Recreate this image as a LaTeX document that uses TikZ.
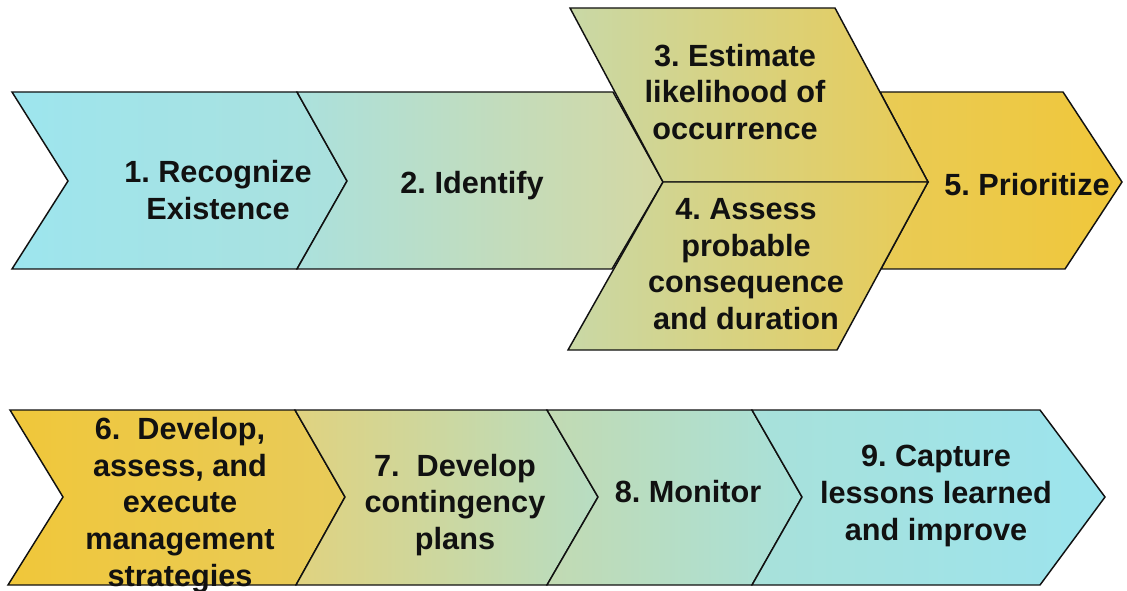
\documentclass[tikz,border=0pt]{standalone}
\usepackage{fontspec}
\setmainfont{Liberation Sans}
\frenchspacing
\definecolor{cA}{HTML}{9DE5EE}
\definecolor{cB}{HTML}{ABE1DD}
\definecolor{cC}{HTML}{D5D8A2}
\definecolor{cD}{HTML}{C9D8A6}
\definecolor{cE}{HTML}{E9CB55}
\definecolor{cF}{HTML}{F0C73A}
\definecolor{cG}{HTML}{E8CB5A}
\definecolor{cH}{HTML}{E0D27F}
\definecolor{cI}{HTML}{B7DDC3}
\definecolor{cJ}{HTML}{C2DAB2}
\definecolor{cK}{HTML}{A8E1DA}
\definecolor{cL}{HTML}{9CE4EE}
\definecolor{ink}{HTML}{111111}
\begin{document}
\begin{tikzpicture}[x=0.75pt,y=-0.75pt,
  shp/.style={draw=ink, line width=1.1pt, line join=miter},
  lbl/.style={font=\bfseries\fontsize{23}{27.5}\selectfont\frenchspacing, align=center, text=ink, inner sep=0pt}]
\useasboundingbox (0,0) rectangle (1127,591);
% top row
\shade[shp, left color=cA, right color=cB] (12,92) -- (297,92) -- (347,181) -- (297,269) -- (12,269) -- (68,181) -- cycle;
\shade[shp, left color=cB, right color=cC] (297,92) -- (613,92) -- (663,182) -- (612,269) -- (297,269) -- (347,181) -- cycle;
\shade[shp, left color=cE, right color=cF] (880,92) -- (1063,92) -- (1122,182) -- (1065,269) -- (881,269) -- (928,182) -- cycle;
\shade[shp, left color=cD, right color=cE] (570,8) -- (835,8) -- (928,182) -- (663,182) -- cycle;
\shade[shp, left color=cD, right color=cE] (663,182) -- (928,182) -- (837,350) -- (568,350) -- cycle;
% bottom row
\shade[shp, left color=cF, right color=cG] (10,410) -- (295,410) -- (345,497) -- (296,585) -- (8,585) -- (63,497) -- cycle;
\shade[shp, left color=cH, right color=cI] (295,410) -- (547,410) -- (598,497) -- (547,585) -- (296,585) -- (345,497) -- cycle;
\shade[shp, left color=cJ, right color=cK] (547,410) -- (752,410) -- (802,497) -- (752,585) -- (547,585) -- (598,497) -- cycle;
\shade[shp, left color=cK, right color=cL] (752,410) -- (1040,410) -- (1105,497) -- (1040,585) -- (752,585) -- (802,497) -- cycle;
% labels
\node[lbl] (t1) at (218,190) {1. Recognize\\Existence};
\node[lbl] (t2) at (472,186) {2. Identify};
\node[lbl] (t3) at (735,92) {3. Estimate\\likelihood of\\occurrence};
\node[lbl] (t4) at (746,264) {4. Assess\\probable\\consequence\\and duration};
\node[lbl] (t5) at (1027,185) {5. Prioritize};
\node[lbl] (t6) at (180,505) {6.\ \ Develop,\\assess, and\\execute\\management\\strategies};
\node[lbl] (t7) at (455,505) {7.\ \ Develop\\contingency\\plans};
\node[lbl] (t8) at (688,492) {8. Monitor};
\node[lbl] (t9) at (936,496) {9. Capture\\lessons learned\\and improve};
\end{tikzpicture}
\end{document}
